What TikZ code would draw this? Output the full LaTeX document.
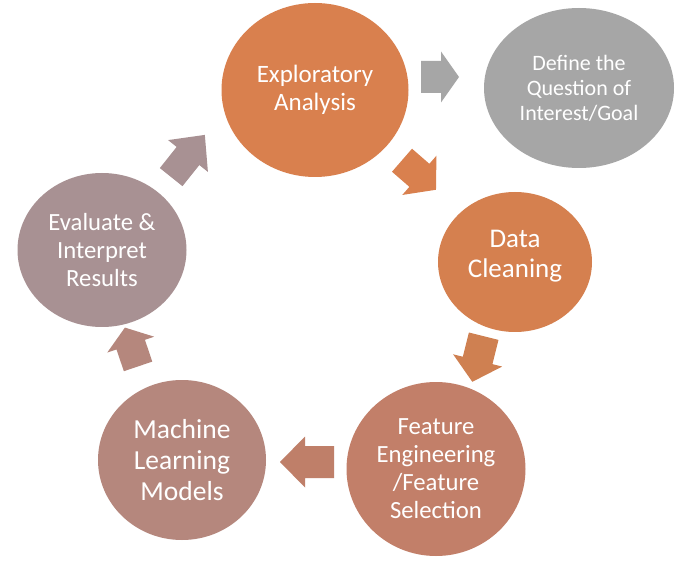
\documentclass[tikz,border=0pt]{standalone}
\usepackage{fontspec}
\setmainfont{Carlito}
\usetikzlibrary{shapes.geometric,calc}
\definecolor{explC}{HTML}{D9804E}
\definecolor{dataC}{HTML}{D5804F}
\definecolor{featC}{HTML}{C27F69}
\definecolor{mlC}{HTML}{B5877D}
\definecolor{evalC}{HTML}{A89193}
\definecolor{goalC}{HTML}{A6A6A6}
\definecolor{arrA}{HTML}{A6A6A6}
\definecolor{arrB}{HTML}{D9804E}
\definecolor{arrC}{HTML}{CF8051}
\definecolor{arrD}{HTML}{BF7F69}
\definecolor{arrE}{HTML}{B5877D}
\definecolor{arrF}{HTML}{A89193}
% #1 cx, #2 cy, #3 angle, #4 colour, #5 length, #6 body width, #7 head width, #8 head length
\newcommand\blockarr[8]{%
  \fill[#4, shift={(#1,#2)}, rotate=#3]
    (-#5/2,-#6/2) -- (#5/2-#8,-#6/2) -- (#5/2-#8,-#7/2) -- (#5/2,0)
    -- (#5/2-#8,#7/2) -- (#5/2-#8,#6/2) -- (-#5/2,#6/2) -- cycle;}
\tikzset{
  bubble/.style={ellipse, inner sep=0pt, text=white, align=center},
}
\begin{document}
\begin{tikzpicture}[x=1pt,y=1pt]
\useasboundingbox (0,0) rectangle (686,-572);
\fill[white] (0,0) rectangle (686,-572);

\node[bubble, fill=explC, minimum width=187pt, minimum height=174pt,
  font=\fontsize{25}{28}\selectfont] (expl) at (315,-90) {Exploratory\\Analysis};
\node[bubble, fill=goalC, minimum width=190pt, minimum height=160pt,
  font=\fontsize{22}{25}\selectfont] (goal) at (579,-88) {Define the\\Question of\\Interest/Goal};
\node[bubble, fill=dataC, minimum width=154pt, minimum height=140pt] (data) at (515,-262) {};
\node[text=white, align=center, font=\fontsize{27}{29.5}\selectfont] (datat) at (515,-256) {Data\\Cleaning};
\node[bubble, fill=featC, minimum width=179pt, minimum height=174pt,
  font=\fontsize{24.7}{28}\selectfont] (feat) at (436,-469) {Feature\\Engineering\\/Feature\\Selection};
\node[bubble, fill=mlC, minimum width=168pt, minimum height=160pt,
  font=\fontsize{27.5}{31}\selectfont] (ml) at (182,-460) {Machine\\Learning\\Models};
\node[bubble, fill=evalC, minimum width=169pt, minimum height=154pt,
  font=\fontsize{24.7}{28}\selectfont] (eval) at (102,-250) {Evaluate \&\\Interpret\\Results};

\blockarr{440}{-77}{0}{arrA}{38}{32}{51}{18}
\blockarr{419}{-175}{-41}{arrB}{45}{30.5}{52}{22}
\blockarr{478}{-359}{-104}{arrC}{47}{30.5}{50.5}{22}
\blockarr{307}{-462}{180}{arrD}{54}{32}{51}{25}
\blockarr{131.5}{-347}{108.7}{arrE}{41}{30}{49.5}{18}
\blockarr{188}{-156}{51.4}{arrF}{54}{29}{51}{27}
\end{tikzpicture}
\end{document}
